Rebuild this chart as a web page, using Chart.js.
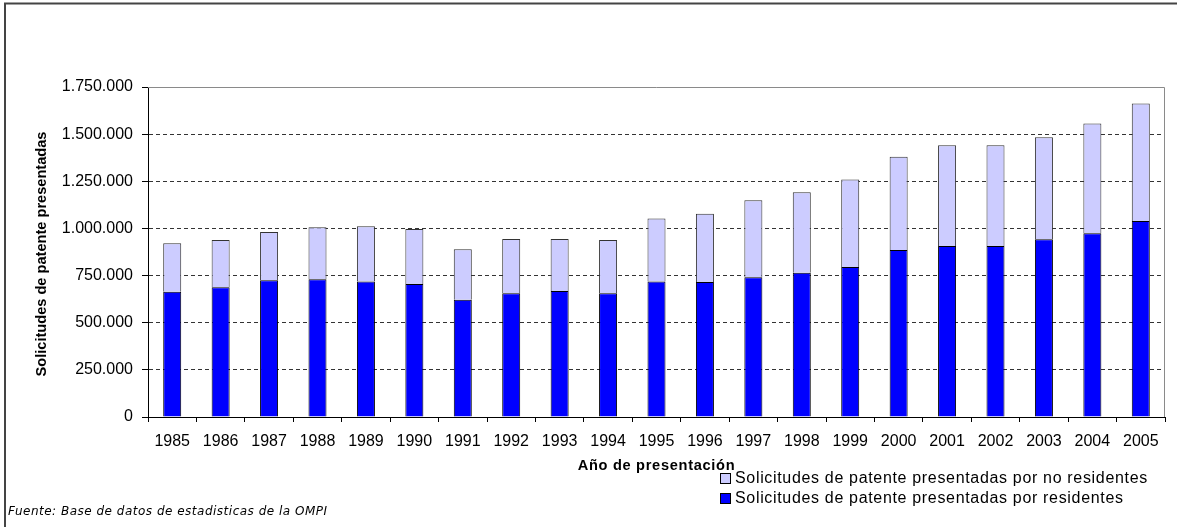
<!DOCTYPE html>
<html>
<head>
<meta charset="utf-8">
<script src="https://cdn.jsdelivr.net/npm/chart.js@4.4.1/dist/chart.umd.min.js"></script>
<style>
html,body{margin:0;padding:0;background:#fff;}
canvas{display:block;}
</style>
</head>
<body>
<canvas id="c" width="1177" height="527"></canvas>
<script>
const years = ['1985','1986','1987','1988','1989','1990','1991','1992','1993','1994','1995','1996','1997','1998','1999','2000','2001','2002','2003','2004','2005'];
const residentes = [664000, 688000, 725000, 730000, 718000, 705000, 622000, 656000, 668000, 656000, 718000, 716000, 741000, 765000, 795000, 886000, 907000, 907000, 942000, 974000, 1039000];
const noResidentes = [257000, 251000, 256000, 276000, 293000, 292000, 267000, 288000, 276000, 283000, 334000, 362000, 408000, 427000, 465000, 494000, 534000, 534000, 541000, 583000, 624000];
const yTickLabels = ['0','250.000','500.000','750.000','1.000.000','1.250.000','1.500.000','1.750.000'];
const seriesNames = ['Solicitudes de patente presentadas por residentes','Solicitudes de patente presentadas por no residentes'];
const yTitle = 'Solicitudes de patente presentadas';
const xTitle = 'Año de presentación';
const source = 'Fuente: Base de datos de estadisticas de la OMPI';

const TICK_FONT = {family:'"Liberation Sans", Arial, sans-serif', size:16};

const decor = {
  id:'decor',
  afterDraw(chart){
    const ctx = chart.ctx;
    const a = chart.chartArea;
    ctx.save();
    // outer frame
    ctx.strokeStyle = '#444';
    ctx.lineWidth = 2;
    ctx.beginPath();
    ctx.moveTo(5, 527); ctx.lineTo(5, 3.5); ctx.lineTo(1177, 3.5);
    ctx.stroke();
    // plot frame top/right
    ctx.strokeStyle = '#8a8a8a';
    ctx.lineWidth = 1;
    ctx.beginPath();
    ctx.moveTo(a.left, a.top + 0.5); ctx.lineTo(a.right - 0.5, a.top + 0.5); ctx.lineTo(a.right - 0.5, a.bottom);
    ctx.stroke();
    // y title
    ctx.fillStyle = '#000';
    ctx.font = 'bold 14.6px "Liberation Sans", Arial, sans-serif';
    ctx.textAlign = 'center';
    ctx.textBaseline = 'middle';
    ctx.save();
    ctx.translate(42, 254);
    ctx.rotate(-Math.PI/2);
    ctx.fillText(yTitle, 0, 0);
    ctx.restore();
    // x title
    ctx.letterSpacing = '0.7px';
    ctx.fillText(xTitle, (a.left + a.right)/2, 466);
    // legend (reverse order: top series first)
    ctx.font = '16px "Liberation Sans", Arial, sans-serif';
    ctx.letterSpacing = '0.67px';
    ctx.textAlign = 'left';
    const ds = chart.data.datasets;
    const order = [1, 0];
    order.forEach((di, k) => {
      const y = 479 + k*20;
      ctx.fillStyle = ds[di].backgroundColor;
      ctx.fillRect(720.5, y - 5.5, 10, 10);
      ctx.strokeStyle = '#000';
      ctx.lineWidth = 1;
      ctx.strokeRect(720.5, y - 5.5, 10, 10);
      ctx.fillStyle = '#000';
      ctx.fillText(ds[di].label, 735, y);
    });
    // source
    ctx.font = 'italic 12px "DejaVu Sans", Verdana, sans-serif';
    ctx.letterSpacing = '0.5px';
    ctx.fillText(source, 8, 512);
    ctx.restore();
  }
};

new Chart(document.getElementById('c'), {
  type: 'bar',
  data: {
    labels: years,
    datasets: [
      {label: seriesNames[0], data: residentes, backgroundColor: '#0000FF', borderColor: '#000', borderWidth: 1, barPercentage: 0.372, categoryPercentage: 1},
      {label: seriesNames[1], data: noResidentes, backgroundColor: '#CCCCFF', borderColor: '#333', borderWidth: 1, barPercentage: 0.372, categoryPercentage: 1}
    ]
  },
  options: {
    responsive: false,
    animation: false,
    devicePixelRatio: 1,
    layout: {padding: {left: 0, right: 12, top: 87, bottom: 0}},
    plugins: {legend: {display: false}, tooltip: {enabled: false}},
    scales: {
      x: {
        stacked: true,
        grid: {offset: true, drawOnChartArea: false, drawTicks: true, tickLength: 5, tickColor: '#000', tickWidth: 1},
        border: {color: '#000', width: 1},
        ticks: {font: TICK_FONT, color: '#000', padding: 10, maxRotation: 0, autoSkip: false},
        afterFit: s => { s.height = 110; }
      },
      y: {
        stacked: true,
        min: 0, max: 1750000,
        ticks: {
          stepSize: 250000, font: TICK_FONT, color: '#000', padding: 9,
          callback: (v, i) => yTickLabels[i]
        },
        grid: {
          color: c => (c.tick && (c.tick.value === 0 || c.tick.value === 1750000)) ? 'rgba(0,0,0,0)' : '#333',
          lineWidth: 1, tickLength: 6, tickColor: '#000', tickWidth: 1, tickBorderDash: []
        },
        border: {color: '#000', width: 1, dash: [4, 3]},
        afterFit: s => { s.width = 148; }
      }
    }
  },
  plugins: [decor]
});
</script>
</body>
</html>
